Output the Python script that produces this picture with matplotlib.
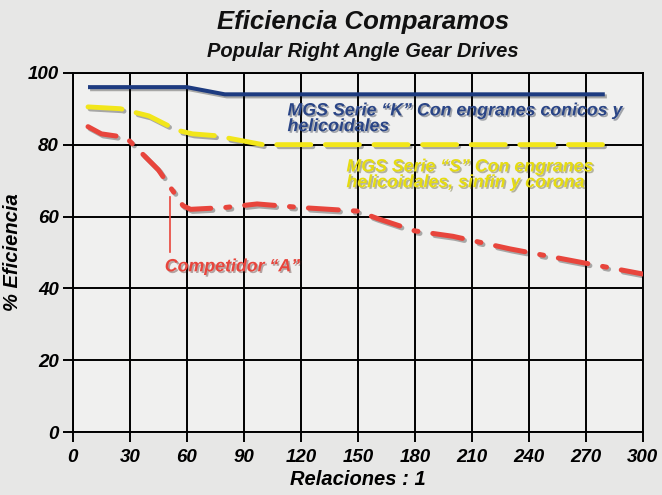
import matplotlib.pyplot as plt
import matplotlib.patheffects as pe

# values
blue_x = [8, 30, 60, 70, 80, 120, 200, 280]
blue_y = [96, 96, 96, 95, 94, 94, 94, 94]

yellow_x = [8, 25, 40, 55, 63, 75, 90, 100, 150, 200, 280]
yellow_y = [90.5, 90, 88, 84, 83, 82.5, 81, 80, 80, 80, 80]

red_x = [8, 15, 28, 45, 58, 62, 80, 97, 120, 150, 160, 180, 200, 230, 260, 280, 300]
red_y = [85, 83, 82, 73, 63, 62, 62.5, 63.5, 62.5, 61.5, 59.5, 56, 54.5, 51, 48, 46, 44]

x_ticks = [0, 30, 60, 90, 120, 150, 180, 210, 240, 270, 300]
y_ticks = [0, 20, 40, 60, 80, 100]

plt.rcParams["font.family"] = ["Liberation Sans", "DejaVu Sans"]
plt.rcParams["font.weight"] = "bold"
plt.rcParams["font.style"] = "italic"
plt.rcParams["axes.labelweight"] = "bold"

BG = "#e7e7e6"
fig = plt.figure(figsize=(6.62, 4.95), dpi=100, facecolor=BG)
ax = fig.add_axes([0.110, 0.127, 0.861, 0.726])
ax.set_facecolor("#f0f0ef")

line_shadow = [pe.SimpleLineShadow(offset=(1.5, -1.5), alpha=0.3), pe.Normal()]
text_shadow = [pe.withSimplePatchShadow(offset=(1.2, -1.2), alpha=0.35)]

ax.plot(blue_x, blue_y, color="#1d3b80", lw=2.9, solid_capstyle="butt",
        zorder=4, path_effects=line_shadow)
ax.plot(yellow_x, yellow_y, color="#f2e61a", lw=3.5, dashes=(7, 3),
        dash_capstyle="round", zorder=4, path_effects=line_shadow)
ax.plot(red_x, red_y, color="#e8453c", lw=3.6, dashes=(6, 3, 0.8, 3),
        dash_capstyle="round", zorder=4, path_effects=line_shadow)

# pointer line for the competitor label
ax.plot([51, 51], [65.5, 50], color="#e8453c", lw=1.2, zorder=3)

ax.text(113, 87.2, "MGS Serie \u201cK\u201d Con engranes conicos y\nhelicoidales",
        color="#2a4586", fontsize=12.8, va="center", ha="left",
        linespacing=0.9, path_effects=text_shadow, zorder=5)
ax.text(144, 71.6, "MGS Serie \u201cS\u201d Con engranes\nhelicoidales, sinfin y corona",
        color="#e6dc10", fontsize=12.8, va="center", ha="left",
        linespacing=0.9, path_effects=text_shadow, zorder=5)
ax.text(48.4, 46, "Competidor \u201cA\u201d",
        color="#e8453c", fontsize=12.8, va="center", ha="left",
        path_effects=text_shadow, zorder=5)

ax.set_xlim(0, 300)
ax.set_ylim(0, 100)
ax.set_xticks(x_ticks)
ax.set_yticks(y_ticks)
ax.grid(True, color="black", lw=1.4, zorder=1)
ax.set_axisbelow(True)
for s in ax.spines.values():
    s.set_color("black")
    s.set_linewidth(1.4)
ax.tick_params(length=7, width=1.4, color="black", labelsize=13.5)
ax.tick_params(axis="x", pad=5)
ax.tick_params(axis="y", pad=3)

ax.set_xlabel("Relaciones : 1", fontsize=14.5, fontweight="bold", labelpad=3)
ax.set_ylabel("% Eficiencia", fontsize=14.5, fontweight="bold", labelpad=4)

fig.text(0.548, 0.955, "Eficiencia Comparamos", ha="center", va="center",
         fontsize=18.5, color="#111111")
fig.text(0.548, 0.895, "Popular Right Angle Gear Drives", ha="center", va="center",
         fontsize=14.5, color="#111111")

fig.savefig("out.png", dpi=100, facecolor=BG)
